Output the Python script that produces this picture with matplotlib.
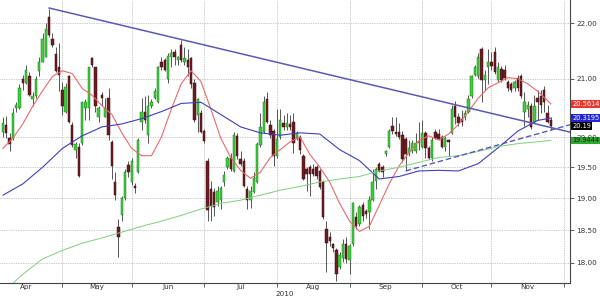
import pandas as pd
import matplotlib
matplotlib.use("Agg")
from matplotlib import pyplot as plt
from matplotlib import ticker, transforms

# daily candles, 7 Apr 2010 onwards (one per weekday)
opens = [20.09, 20.20, 19.98, 19.98, 20.50, 20.50, 21.00, 20.93, 21.05, 20.64,
         20.69, 21.13, 21.30, 21.39, 22.11, 21.71, 21.43, 21.21, 20.81, 20.43,
         21.04, 20.21, 19.79, 19.84, 19.90, 20.50, 20.50, 21.36, 21.20, 20.33,
         20.72, 20.34, 20.67, 19.92, 19.26, 18.55, 18.73, 19.00, 19.53, 19.26,
         19.20, 19.42, 20.26, 20.43, 20.03, 20.53, 20.67, 20.59, 21.30, 21.34,
         21.00, 21.39, 21.48, 21.34, 21.61, 21.29, 21.34, 21.36, 20.93, 20.38,
         20.41, 20.10, 19.61, 19.15, 19.10, 18.94, 18.98, 19.26, 19.50, 19.66,
         19.44, 20.02, 19.63, 19.60, 19.15, 18.97, 19.10, 19.26, 19.87, 20.09,
         20.64, 20.21, 20.10, 19.68, 20.00, 20.24, 20.16, 20.22, 20.26, 19.98,
         20.00, 19.68, 19.47, 19.50, 19.47, 19.50, 19.44, 19.26, 18.52, 18.39,
         18.28, 18.20, 17.94, 18.08, 18.28, 18.05, 18.28, 18.70, 18.59, 18.89,
         18.80, 18.78, 18.98, 19.27, 19.55, 19.50, 19.71, 19.84, 20.19, 20.09,
         20.09, 20.03, 19.97, 19.71, 19.76, 19.76, 19.90, 19.84, 20.07, 19.82,
         19.66, 20.09, 20.05, 20.00, 19.84, 19.95, 20.07, 20.53, 20.33, 20.31,
         20.33, 20.43, 20.69, 21.07, 21.04, 21.52, 20.98, 21.20, 21.30, 21.48,
         20.98, 21.18, 21.16, 20.95, 20.90, 20.83, 21.02, 21.04, 20.43, 20.48,
         20.52, 20.26, 20.66, 20.69, 20.81, 20.41, 20.28]
highs = [20.33, 20.35, 20.07, 20.50, 20.60, 20.90, 21.07, 21.25, 21.11, 20.76,
         21.04, 21.39, 21.82, 22.00, 22.27, 21.82, 21.57, 21.64, 20.95, 20.93,
         21.07, 20.26, 19.92, 19.90, 20.60, 20.64, 21.21, 21.39, 21.21, 20.52,
         20.76, 20.67, 20.84, 19.95, 19.42, 18.67, 19.03, 19.47, 19.60, 19.65,
         19.24, 19.98, 20.67, 20.69, 20.72, 20.64, 20.83, 21.23, 21.38, 21.36,
         21.45, 21.52, 21.52, 21.41, 21.70, 21.57, 21.52, 21.39, 21.00, 20.67,
         20.45, 20.14, 19.65, 19.27, 19.16, 19.19, 19.19, 19.44, 19.68, 19.74,
         20.09, 20.07, 19.76, 19.65, 19.19, 19.20, 19.42, 19.92, 20.41, 20.69,
         20.76, 20.28, 20.14, 20.47, 20.47, 20.38, 20.40, 20.38, 20.40, 20.10,
         20.03, 19.71, 19.50, 19.53, 19.55, 19.53, 19.47, 19.29, 18.64, 18.47,
         18.30, 18.23, 18.17, 18.36, 18.39, 18.28, 18.94, 18.78, 18.89, 18.94,
         18.83, 19.03, 19.47, 19.50, 19.58, 19.53, 19.79, 20.14, 20.34, 20.33,
         20.24, 20.10, 20.00, 19.95, 19.95, 20.07, 20.26, 20.29, 20.10, 19.85,
         20.00, 20.14, 20.14, 20.03, 20.02, 19.97, 20.55, 20.62, 20.40, 20.45,
         20.45, 20.72, 21.07, 21.25, 21.46, 21.57, 21.16, 21.52, 21.48, 21.57,
         21.30, 21.23, 21.25, 20.97, 20.95, 20.97, 21.07, 21.09, 20.76, 20.62,
         20.57, 20.72, 20.81, 20.81, 20.88, 20.55, 20.33]
lows = [20.00, 19.98, 19.77, 19.95, 20.43, 20.47, 20.81, 20.90, 20.69, 20.52,
        20.66, 21.04, 21.29, 21.38, 21.75, 21.57, 21.11, 20.78, 20.38, 20.41,
        20.24, 19.84, 19.66, 19.34, 19.87, 20.29, 20.29, 21.21, 20.43, 20.26,
        20.52, 20.33, 19.95, 19.31, 18.98, 18.09, 18.64, 18.98, 19.34, 19.22,
        19.08, 19.40, 20.12, 20.24, 19.90, 20.50, 20.64, 20.57, 21.16, 21.13,
        20.93, 21.21, 21.25, 21.25, 21.30, 21.25, 21.04, 20.84, 20.26, 20.09,
        20.07, 19.90, 18.64, 18.64, 18.72, 18.88, 18.83, 19.19, 19.47, 19.44,
        19.42, 19.63, 19.52, 19.18, 18.83, 18.84, 19.08, 19.24, 19.84, 20.07,
        20.24, 19.98, 19.52, 19.66, 19.97, 20.12, 20.12, 20.12, 19.74, 19.95,
        19.71, 19.29, 19.11, 19.03, 19.36, 19.31, 19.15, 18.67, 17.86, 18.25,
        18.17, 17.73, 17.91, 18.02, 18.00, 17.84, 18.25, 18.52, 18.56, 18.64,
        18.69, 18.52, 18.95, 19.15, 19.42, 19.34, 19.68, 19.81, 20.05, 20.02,
        19.97, 19.58, 19.44, 19.68, 19.74, 19.74, 19.79, 19.81, 19.66, 19.63,
        19.60, 19.97, 19.95, 19.81, 19.76, 19.68, 20.05, 20.22, 20.19, 20.19,
        20.29, 20.41, 20.67, 21.05, 21.02, 20.60, 20.81, 20.90, 21.16, 21.09,
        20.95, 20.95, 20.98, 20.79, 20.76, 20.79, 20.79, 20.66, 20.19, 20.33,
        20.14, 20.24, 20.28, 20.40, 20.43, 20.24, 20.12]
closes = [20.24, 20.06, 19.89, 20.41, 20.55, 20.84, 20.93, 21.16, 20.72, 20.69,
          21.00, 21.29, 21.71, 21.89, 21.79, 21.61, 21.13, 21.07, 20.53, 20.86,
          20.26, 19.87, 19.89, 19.35, 20.59, 20.59, 21.20, 21.25, 20.52, 20.50,
          20.67, 20.50, 20.03, 19.52, 19.05, 18.39, 19.00, 19.42, 19.42, 19.61,
          19.16, 19.95, 20.43, 20.29, 20.52, 20.59, 20.78, 21.21, 21.21, 21.16,
          21.41, 21.46, 21.38, 21.38, 21.34, 21.36, 21.21, 20.90, 20.28, 20.64,
          20.09, 19.94, 18.81, 18.88, 18.86, 19.11, 19.16, 19.37, 19.65, 19.47,
          20.03, 19.68, 19.55, 19.19, 18.98, 19.11, 19.32, 19.89, 20.17, 20.60,
          20.26, 20.03, 19.68, 19.97, 20.28, 20.16, 20.24, 20.17, 19.90, 20.07,
          19.79, 19.31, 19.39, 19.39, 19.39, 19.35, 19.18, 18.70, 18.31, 18.33,
          18.22, 17.84, 18.12, 18.28, 18.06, 18.25, 18.92, 18.56, 18.86, 18.72,
          18.75, 18.98, 19.26, 19.47, 19.44, 19.42, 19.76, 20.10, 20.10, 20.05,
          20.00, 19.63, 19.71, 19.82, 19.90, 19.90, 19.92, 20.07, 19.82, 19.66,
          19.95, 19.98, 19.97, 19.84, 19.98, 19.92, 20.48, 20.34, 20.24, 20.26,
          20.41, 20.64, 21.05, 21.20, 21.38, 20.98, 21.07, 21.30, 21.23, 21.11,
          21.20, 20.98, 21.02, 20.84, 20.81, 20.95, 20.84, 20.69, 20.60, 20.55,
          20.17, 20.52, 20.59, 20.55, 20.60, 20.26, 20.19]

# short moving average, read every 3rd candle
red_idx = [0, 3, 6, 9, 12, 15, 18, 21, 24, 27, 30, 33, 36, 39, 42, 45, 48, 51,
           54, 57, 60, 63, 66, 69, 72, 75, 78, 81, 84, 87, 90, 93, 96, 99, 102,
           105, 108, 111, 114, 117, 120, 123, 126, 129, 132, 135, 138, 141, 144,
           147, 150, 153, 156, 159, 162, 165, 166]
ma_red = [19.81, 19.98, 20.22, 20.52, 20.79, 21.04, 21.14, 21.09, 20.83, 20.71,
          20.53, 20.38, 20.07, 19.81, 19.69, 19.69, 20.00, 20.47, 20.91, 21.14,
          20.95, 20.47, 19.98, 19.66, 19.45, 19.32, 19.42, 19.66, 19.79, 19.92,
          20.00, 19.71, 19.50, 19.26, 18.92, 18.64, 18.48, 18.56, 18.89, 19.23,
          19.52, 19.74, 19.94, 20.02, 19.95, 20.05, 20.21, 20.43, 20.66, 20.84,
          20.93, 21.02, 21.00, 20.91, 20.78, 20.62, 20.5614]

# slower averages read at every 6th candle (plus the last one)
ma_idx = [0, 6, 12, 18, 24, 30, 36, 42, 48, 54, 60, 66, 72, 78, 84,
          90, 96, 102, 108, 114, 120, 126, 132, 138, 144, 150, 156, 162, 166]
ma_blue = [19.05, 19.23, 19.50, 19.81, 20.02, 20.17, 20.22, 20.31, 20.43, 20.57,
           20.59, 20.38, 20.17, 20.07, 20.03, 20.07, 20.05, 19.79, 19.61, 19.31,
           19.35, 19.44, 19.45, 19.44, 19.56, 19.82, 20.10, 20.28, 20.3195]
ma_green = [17.56, 17.83, 18.06, 18.19, 18.30, 18.38, 18.47, 18.56, 18.64, 18.73,
            18.83, 18.92, 18.97, 19.05, 19.13, 19.19, 19.26, 19.31, 19.35, 19.44,
            19.50, 19.58, 19.66, 19.69, 19.76, 19.84, 19.89, 19.92, 19.9444]

# drawn trend lines (candle index, price)
trend_idx = [14, 172]
trend_px = [22.28, 20.08]
support_idx = [122, 172]
support_px = [19.44, 20.21]

tag_values = [20.5614, 20.3195, 20.19, 19.9444]
tag_text = ["20.5614", "20.3195", "20.19", "19.9444"]
tag_colors = ["#e8372f", "#2323d8", "#000000", "#2ea82e"]
tag_fg = ["white", "white", "white", "#1a1a1a"]

y_ticks = [18.0, 18.5, 19.0, 19.5, 20.0, 21.0, 22.0]

FONT = 5.2
UP, DOWN = "#3ccf3c", "#6b1d22"


def main():
    # weekday calendar, candle 0 = 7 Apr 2010
    cal = pd.bdate_range("2010-04-01", "2010-12-31")
    start = list(cal).index(pd.Timestamp("2010-04-07"))
    pos = [k - start for k in range(len(cal))]
    month_starts = [pos[0]] + [p for p, d, prev in zip(pos[1:], cal[1:], cal[:-1])
                               if d.month != prev.month]
    mids = [(a + b) / 2 for a, b in zip(month_starts[:-1], month_starts[1:])]
    mid_names = [cal[start + int(a)].strftime("%b") for a in month_starts[:-1]]

    fig = plt.figure(figsize=(6, 3), dpi=100)
    ax = fig.add_axes([0, 17 / 300, 570 / 600, 283 / 300])
    ax.set_yscale("log")

    x = list(range(len(closes)))
    ax.vlines(x, lows, highs, color="#555555", lw=0.7, zorder=2)
    for i in x:
        o, c = opens[i], closes[i]
        up = c >= o
        ax.bar(i, max(abs(c - o), 0.02), bottom=min(o, c), width=0.72,
               color=UP if up else DOWN, edgecolor="#1f7a1f" if up else "#3a0c10",
               linewidth=0.35, zorder=3)

    ax.plot(red_idx, ma_red, color="#e86a6a", lw=0.8, zorder=4)
    ax.plot(ma_idx, ma_blue, color="#3f3fb8", lw=0.8, zorder=4)
    ax.plot(ma_idx, ma_green, color="#7fcf7f", lw=0.7, zorder=4)
    ax.plot(trend_idx, trend_px, color="#5a5ab0", lw=1.1, zorder=5)
    ax.plot(support_idx, support_px, color="#5a5ab0", lw=1.0, ls=(0, (4, 2)), zorder=5)

    ax.set_xlim(-0.9, 171.8)
    ax.set_ylim(17.70, 22.43)

    ax.xaxis.set_major_locator(ticker.FixedLocator(month_starts))
    ax.xaxis.set_major_formatter(ticker.NullFormatter())
    ax.xaxis.set_minor_locator(ticker.FixedLocator(mids))
    ax.xaxis.set_minor_formatter(ticker.FixedFormatter(mid_names))
    ax.tick_params(axis="x", which="major", length=3, width=0.6, color="#444444")
    ax.tick_params(axis="x", which="minor", length=0, pad=1, labelsize=FONT, labelcolor="#333333")

    ax.yaxis.tick_right()
    ax.yaxis.set_major_locator(ticker.FixedLocator(y_ticks))
    ax.yaxis.set_major_formatter(ticker.FuncFormatter(lambda v, p: f"{v:.2f}"))
    ax.yaxis.set_minor_locator(ticker.NullLocator())
    ax.tick_params(axis="y", which="major", length=3, width=0.6, pad=1.5,
                   labelsize=FONT, labelcolor="#333333", color="#444444")

    ax.grid(True, which="major", ls=(0, (1, 1.5)), color="#9a9a9a", lw=0.5)
    for s in ["left", "top"]:
        ax.spines[s].set_visible(False)
    for s in ["right", "bottom"]:
        ax.spines[s].set_color("#444444")
        ax.spines[s].set_linewidth(0.8)

    tr = transforms.blended_transform_factory(ax.transAxes, ax.transData)
    for v, t, bg, fg in zip(tag_values, tag_text, tag_colors, tag_fg):
        ax.text(1.004, v, t, transform=tr, ha="left", va="center", fontsize=4.8,
                color=fg, clip_on=False, zorder=10,
                bbox=dict(boxstyle="square,pad=0.12", fc=bg, ec="none"))

    fig.text(285 / 600, 1 - 294 / 300, "2010", ha="center", va="center",
             fontsize=FONT, color="#333333")

    fig.savefig("out.png", dpi=100, facecolor="white")


if __name__ == '__main__':
    main()
